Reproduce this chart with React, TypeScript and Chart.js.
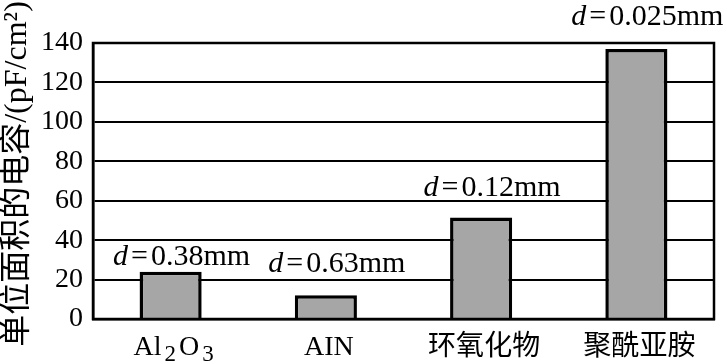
import React, { useEffect, useRef } from "react";
import { Chart, registerables } from "chart.js";

Chart.register(...registerables);

const categories = ["Al₂O₃", "AIN", "环氧化物", "聚酰亚胺"];
const capacitance = [24, 12, 51.5, 137];
const thicknessLabels = ["0.38mm", "0.63mm", "0.12mm", "0.025mm"];
const labelAnchor = [27.4, 23.8, 62.4, 149];
const yTicks = [0, 20, 40, 60, 80, 100, 120, 140];
const yTitle = "单位面积的电容/(pF/cm²)";

const SERIF = "'Liberation Serif', 'Times New Roman', 'Noto Sans CJK SC', serif";
const SUBS = "₀₁₂₃₄₅₆₇₈₉";

function drawRich(ctx: any, text: string, cx: number, baseline: number) {
  const parts: { t: string; sub: boolean }[] = [];
  for (const ch of text) {
    const k = SUBS.indexOf(ch);
    if (k >= 0) parts.push({ t: String(k), sub: true });
    else if (parts.length && !parts[parts.length - 1].sub) parts[parts.length - 1].t += ch;
    else parts.push({ t: ch, sub: false });
  }
  const hasSub = parts.some((p) => p.sub);
  const gap = hasSub ? 3 : 0;
  const widths = parts.map((p) => {
    ctx.font = p.sub ? `23px ${SERIF}` : `28px ${SERIF}`;
    return ctx.measureText(p.t).width;
  });
  const total = widths.reduce((a, b) => a + b, 0) + gap * (parts.length - 1);
  let x = cx - total / 2;
  ctx.textAlign = "left";
  ctx.textBaseline = "alphabetic";
  parts.forEach((p, i) => {
    ctx.font = p.sub ? `23px ${SERIF}` : `28px ${SERIF}`;
    ctx.fillText(p.t, x, baseline + (p.sub ? 6 : 0));
    x += widths[i] + gap;
  });
}

const annotPlugin = {
  id: "annot",
  afterDatasetsDraw(chart: any) {
    const ctx = chart.ctx;
    const meta = chart.getDatasetMeta(0);
    const ys = chart.scales.y;
    const xs = chart.scales.x;
    const area = chart.chartArea;
    ctx.save();
    // frame
    ctx.strokeStyle = "#000";
    ctx.lineWidth = 2.5;
    ctx.strokeRect(area.left, area.top, area.right - area.left, area.bottom - area.top);
    ctx.fillStyle = "#000";
    // x category labels
    categories.forEach((c, i) => {
      drawRich(ctx, c, xs.getPixelForValue(i) + 3, area.bottom + 36);
    });
    // annotations
    ctx.textBaseline = "alphabetic";
    ctx.textAlign = "left";
    meta.data.forEach((bar: any, i: number) => {
      const y = ys.getPixelForValue(labelAnchor[i]);
      ctx.font = `italic 30px ${SERIF}`;
      const dW = ctx.measureText("d").width;
      ctx.font = `30px ${SERIF}`;
      const eqW = ctx.measureText("=").width;
      const valW = ctx.measureText(thicknessLabels[i]).width;
      const sp = 3;
      const total = dW + sp + eqW + sp + valW;
      const x0 = bar.x + 11 - total / 2;
      ctx.font = `italic 30px ${SERIF}`;
      ctx.fillText("d", x0, y);
      ctx.font = `30px ${SERIF}`;
      ctx.fillText("=", x0 + dW + sp, y);
      ctx.fillText(thicknessLabels[i], x0 + dW + sp + eqW + sp, y);
    });
    // y title
    ctx.translate(18, 174);
    ctx.rotate(-Math.PI / 2);
    ctx.textAlign = "center";
    ctx.textBaseline = "middle";
    ctx.font = `32px ${SERIF}`;
    ctx.fillText(yTitle, 0, 0);
    ctx.restore();
  },
};

export default function App() {
  const ref = useRef<HTMLCanvasElement>(null);
  useEffect(() => {
    document.body.style.margin = "0";
    const chart = new Chart(ref.current!, {
      type: "bar",
      data: {
        labels: categories,
        datasets: [
          {
            data: capacitance,
            backgroundColor: "#a6a6a6",
            borderColor: "#000",
            borderWidth: 3.5,
            borderSkipped: "bottom",
            barPercentage: 0.4,
            categoryPercentage: 1,
          },
        ],
      },
      options: {
        animation: false,
        responsive: false,
        maintainAspectRatio: false,
        layout: { padding: { top: 43, right: 13, left: 0, bottom: 0 } },
        plugins: { legend: { display: false }, tooltip: { enabled: false } },
        scales: {
          x: {
            grid: { display: false, drawTicks: false },
            border: { display: true, color: "#000", width: 2.5 },
            ticks: { display: false },
            afterFit: (s: any) => {
              s.height = 45;
            },
          },
          y: {
            min: 0,
            max: 140,
            afterBuildTicks: (s: any) => {
              s.ticks = yTicks.map((v) => ({ value: v }));
            },
            grid: { color: "#000", lineWidth: 2, drawTicks: false },
            border: { display: true, color: "#000", width: 2.5 },
            ticks: { color: "#000", font: { family: SERIF, size: 28 }, padding: 10 },
            afterFit: (s: any) => {
              s.width = 93;
            },
          },
        },
      },
      plugins: [annotPlugin],
    });
    return () => chart.destroy();
  }, []);
  return (
    <div style={{ position: "fixed", left: 0, top: 0, width: 727, height: 364, background: "#fff" }}>
      <canvas ref={ref} width={727} height={364} />
    </div>
  );
}
